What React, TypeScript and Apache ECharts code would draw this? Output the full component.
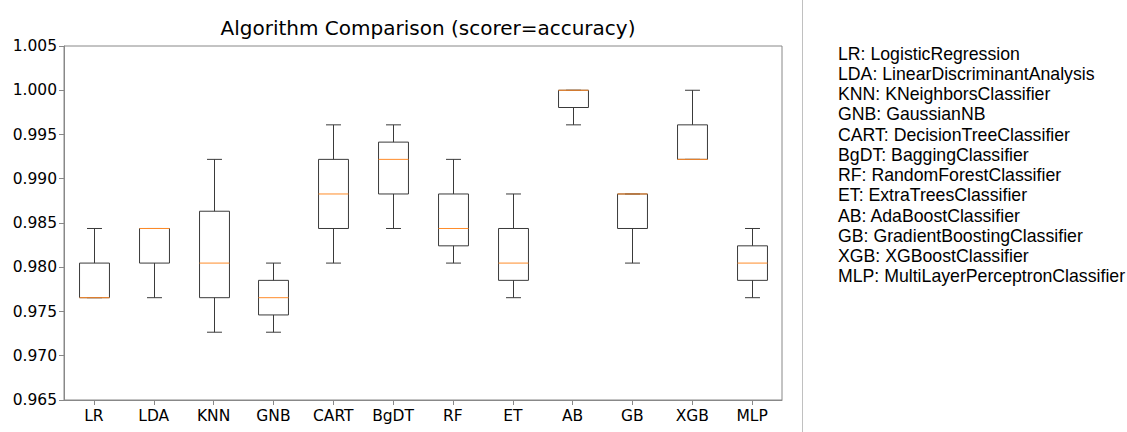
import React, { useEffect, useRef } from "react";
import * as echarts from "echarts";

const categories = ["LR", "LDA", "KNN", "GNB", "CART", "BgDT", "RF", "ET", "AB", "GB", "XGB", "MLP"];
const mins = [0.97656, 0.97656, 0.97266, 0.97266, 0.98047, 0.98438, 0.98047, 0.97656, 0.99609, 0.98047, 0.99219, 0.97656];
const q1s = [0.97656, 0.98047, 0.97656, 0.97461, 0.98438, 0.98828, 0.98242, 0.97852, 0.99805, 0.98438, 0.99219, 0.97852];
const medians = [0.97656, 0.98438, 0.98047, 0.97656, 0.98828, 0.99219, 0.98438, 0.98047, 1.0, 0.98828, 0.99219, 0.98047];
const q3s = [0.98047, 0.98438, 0.98633, 0.97852, 0.99219, 0.99414, 0.98828, 0.98438, 1.0, 0.98828, 0.99609, 0.98242];
const maxs = [0.98438, 0.98438, 0.99219, 0.98047, 0.99609, 0.99609, 0.99219, 0.98828, 1.0, 0.98828, 1.0, 0.98438];
const legendLabels = [
  "LR: LogisticRegression",
  "LDA: LinearDiscriminantAnalysis",
  "KNN: KNeighborsClassifier",
  "GNB: GaussianNB",
  "CART: DecisionTreeClassifier",
  "BgDT: BaggingClassifier",
  "RF: RandomForestClassifier",
  "ET: ExtraTreesClassifier",
  "AB: AdaBoostClassifier",
  "GB: GradientBoostingClassifier",
  "XGB: XGBoostClassifier",
  "MLP: MultiLayerPerceptronClassifier",
];
const titleText = "Algorithm Comparison (scorer=accuracy)";
const yMin = 0.965;
const yMax = 1.005;
const yStep = 0.005;

const BOX_COLOR = "#3a3a3a";
const MEDIAN_COLOR = "#ff8c2a";
const FRAME_COLOR = "#888";
const DEJAVU = "DejaVu Sans";

export default function App() {
  const ref = useRef<HTMLDivElement>(null);
  useEffect(() => {
    if (!ref.current) return;
    const chart = echarts.init(ref.current, undefined, { renderer: "svg" });
    const data = categories.map((_, i) => [i, mins[i], q1s[i], medians[i], q3s[i], maxs[i]]);

    const renderItem = (params: any, api: any) => {
      const idx = api.value(0);
      const band = api.size([1, 0])[0];
      const half = band * 0.25;
      const capHalf = band * 0.125;
      const pMin = api.coord([idx, api.value(1)]);
      const pQ1 = api.coord([idx, api.value(2)]);
      const pMed = api.coord([idx, api.value(3)]);
      const pQ3 = api.coord([idx, api.value(4)]);
      const pMax = api.coord([idx, api.value(5)]);
      const cx = Math.round(pMin[0]) + 0.5;
      const lineStyle = { stroke: BOX_COLOR, lineWidth: 1, fill: "none" };
      const children: any[] = [
        { type: "line", shape: { x1: cx, y1: pQ1[1], x2: cx, y2: pMin[1] }, style: lineStyle },
        { type: "line", shape: { x1: cx, y1: pQ3[1], x2: cx, y2: pMax[1] }, style: lineStyle },
        { type: "line", shape: { x1: cx - capHalf, y1: pMin[1], x2: cx + capHalf, y2: pMin[1] }, style: lineStyle },
        { type: "line", shape: { x1: cx - capHalf, y1: pMax[1], x2: cx + capHalf, y2: pMax[1] }, style: lineStyle },
        {
          type: "rect",
          shape: { x: cx - half, y: pQ3[1], width: half * 2, height: pQ1[1] - pQ3[1] },
          style: { stroke: BOX_COLOR, lineWidth: 1, fill: "none" },
        },
        {
          type: "line",
          shape: { x1: cx - half, y1: pMed[1], x2: cx + half, y2: pMed[1] },
          style: { stroke: MEDIAN_COLOR, lineWidth: 1 },
        },
      ];
      return { type: "group", children };
    };

    const graphics: any[] = [
      {
        type: "line",
        shape: { x1: 802.5, y1: 0, x2: 802.5, y2: 432 },
        style: { stroke: "#c0c0c0", lineWidth: 1 },
      },
      ...legendLabels.map((t, i) => ({
        type: "text",
        x: 838,
        y: 53.5 + i * 20.25,
        style: {
          text: t,
          font: '17.7px "Liberation Sans", Arial, sans-serif',
          fill: "#000",
          verticalAlign: "middle",
          align: "left",
        },
      })),
    ];

    chart.setOption({
      animation: false,
      title: {
        text: titleText,
        left: 423,
        top: 13,
        textAlign: "center",
        textStyle: { fontFamily: DEJAVU, fontSize: 20, fontWeight: "normal", color: "#000" },
      },
      grid: {
        left: 64,
        top: 46,
        width: 718,
        height: 354,
        show: true,
        borderColor: FRAME_COLOR,
        borderWidth: 1,
        backgroundColor: "transparent",
      },
      xAxis: {
        type: "category",
        data: categories,
        boundaryGap: true,
        axisLine: { show: true, lineStyle: { color: FRAME_COLOR, width: 1 } },
        axisTick: { show: true, alignWithLabel: true, length: 5, lineStyle: { color: FRAME_COLOR } },
        axisLabel: { fontFamily: DEJAVU, fontSize: 15.5, color: "#000", margin: 8, interval: 0 },
        splitLine: { show: false },
      },
      yAxis: {
        type: "value",
        min: yMin,
        max: yMax,
        interval: yStep,
        axisLine: { show: true, lineStyle: { color: FRAME_COLOR, width: 1 } },
        axisTick: { show: true, length: 5, lineStyle: { color: FRAME_COLOR } },
        axisLabel: {
          fontFamily: DEJAVU,
          fontSize: 15.5,
          color: "#000",
          margin: 7,
          formatter: (v: number) => v.toFixed(3),
        },
        splitLine: { show: false },
      },
      series: [
        {
          type: "custom",
          renderItem,
          data,
          encode: { x: 0, y: [1, 2, 3, 4, 5] },
          clip: false,
        },
      ],
      graphic: graphics,
    });
    return () => chart.dispose();
  }, []);
  return (
    <div
      ref={ref}
      style={{ position: "fixed", left: 0, top: 0, width: 1127, height: 432, background: "#fff" }}
    />
  );
}
